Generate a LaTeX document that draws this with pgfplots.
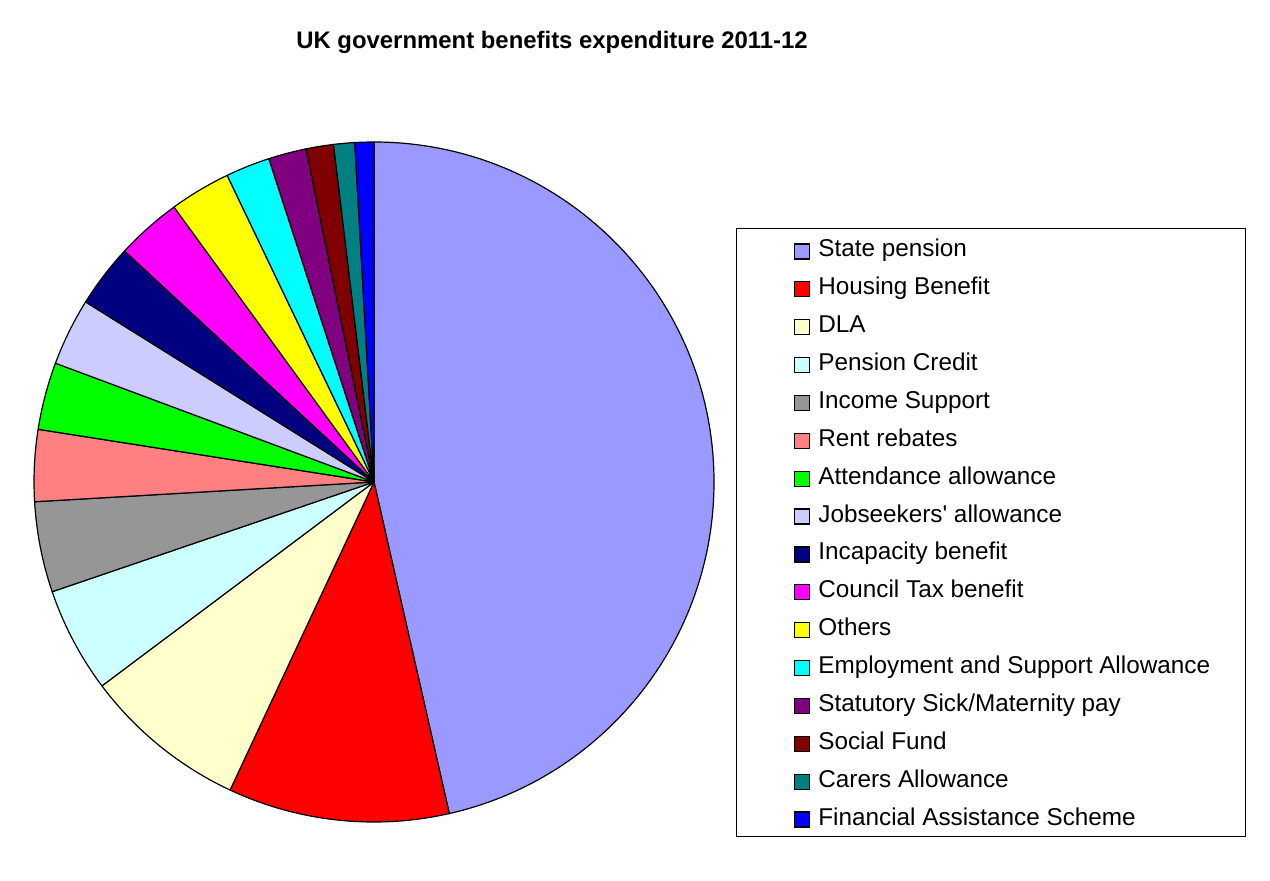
\documentclass[border=0pt]{standalone}
\usepackage{pgfplots}
\usepackage{pgfplotstable}
\pgfplotsset{compat=1.18}
\usepackage{fontspec}
\setmainfont{Liberation Sans}[Ligatures=TeXOff]
\definecolor{c0}{HTML}{9999FF}
\definecolor{c1}{HTML}{FF0000}
\definecolor{c2}{HTML}{FFFFCC}
\definecolor{c3}{HTML}{CCFFFF}
\definecolor{c4}{HTML}{969696}
\definecolor{c5}{HTML}{FF8080}
\definecolor{c6}{HTML}{00FF00}
\definecolor{c7}{HTML}{CCCCFF}
\definecolor{c8}{HTML}{000080}
\definecolor{c9}{HTML}{FF00FF}
\definecolor{c10}{HTML}{FFFF00}
\definecolor{c11}{HTML}{00FFFF}
\definecolor{c12}{HTML}{800080}
\definecolor{c13}{HTML}{800000}
\definecolor{c14}{HTML}{008080}
\definecolor{c15}{HTML}{0000FF}
% share of total benefits expenditure (percent)
\pgfplotstableread{
value col
46.4 c0
10.5 c1
7.8  c2
5.0  c3
4.3  c4
3.4  c5
3.2  c6
3.2  c7
3.0  c8
3.1  c9
2.9  c10
2.1  c11
1.8  c12
1.3  c13
1.0  c14
0.9  c15
}\piedata
\begin{document}
\begin{tikzpicture}
\useasboundingbox (0pt,0pt) rectangle (1270pt,-881pt);
\node[font=\fontsize{23.9}{28}\selectfont\bfseries] at (552pt,-42pt) {UK government benefits expenditure 2011-12};
\draw[line width=1pt] (736pt,-228pt) rectangle (1245pt,-836pt);
\begin{axis}[
  at={(374pt,-482pt)}, anchor=center,
  scale only axis, width=680pt, height=680pt,
  xmin=-1, xmax=1, ymin=-1, ymax=1,
  hide axis, clip=false,
  legend image code/.code={\draw[#1,draw=black,line width=1.2pt] (0pt,-7.5pt) rectangle (15pt,7.5pt);},
  legend cell align=left,
  legend style={draw=none, fill=none, at={(1.1176,0.854)}, anchor=north west,
    inner sep=0pt, row sep=17.87pt, column sep=0pt,
    font=\fontsize{24.3}{28}\selectfont,
    nodes={inner sep=0pt, text height=15.5pt, text depth=4.5pt},
    /tikz/every odd column/.style={column sep=8pt}},
]
\pgfplotsextra{%
  \pgfplotstablegetrowsof{\piedata}%
  \pgfmathtruncatemacro{\lastrow}{\pgfplotsretval-1}%
  \def\total{0}%
  \pgfplotsforeachungrouped \i in {0,...,\lastrow}{%
    \pgfplotstablegetelem{\i}{value}\of\piedata
    \pgfmathsetmacro{\total}{\total+\pgfplotsretval}%
  }%
  \def\startang{90}%
  \pgfplotsforeachungrouped \i in {0,...,\lastrow}{%
    \pgfplotstablegetelem{\i}{value}\of\piedata
    \let\pieval\pgfplotsretval
    \pgfplotstablegetelem{\i}{col}\of\piedata
    \let\piecol\pgfplotsretval
    \pgfmathsetmacro{\endang}{\startang-(360/\total)*\pieval}%
    \filldraw[fill=\piecol, draw=black, line width=1.2pt, line join=round]
      (axis cs:0,0) -- ++(\startang:340pt) arc[start angle=\startang, end angle=\endang, radius=340pt] -- cycle;
    \global\let\startang\endang
  }%
}
\addlegendimage{fill=c0}\addlegendentry{State pension}
\addlegendimage{fill=c1}\addlegendentry{Housing Benefit}
\addlegendimage{fill=c2}\addlegendentry{DLA}
\addlegendimage{fill=c3}\addlegendentry{Pension Credit}
\addlegendimage{fill=c4}\addlegendentry{Income Support}
\addlegendimage{fill=c5}\addlegendentry{Rent rebates}
\addlegendimage{fill=c6}\addlegendentry{Attendance allowance}
\addlegendimage{fill=c7}\addlegendentry{Jobseekers' allowance}
\addlegendimage{fill=c8}\addlegendentry{Incapacity benefit}
\addlegendimage{fill=c9}\addlegendentry{Council Tax benefit}
\addlegendimage{fill=c10}\addlegendentry{Others}
\addlegendimage{fill=c11}\addlegendentry{Employment and Support Allowance}
\addlegendimage{fill=c12}\addlegendentry{Statutory Sick/Maternity pay}
\addlegendimage{fill=c13}\addlegendentry{Social Fund}
\addlegendimage{fill=c14}\addlegendentry{Carers Allowance}
\addlegendimage{fill=c15}\addlegendentry{Financial Assistance Scheme}
\end{axis}
\end{tikzpicture}
\end{document}
